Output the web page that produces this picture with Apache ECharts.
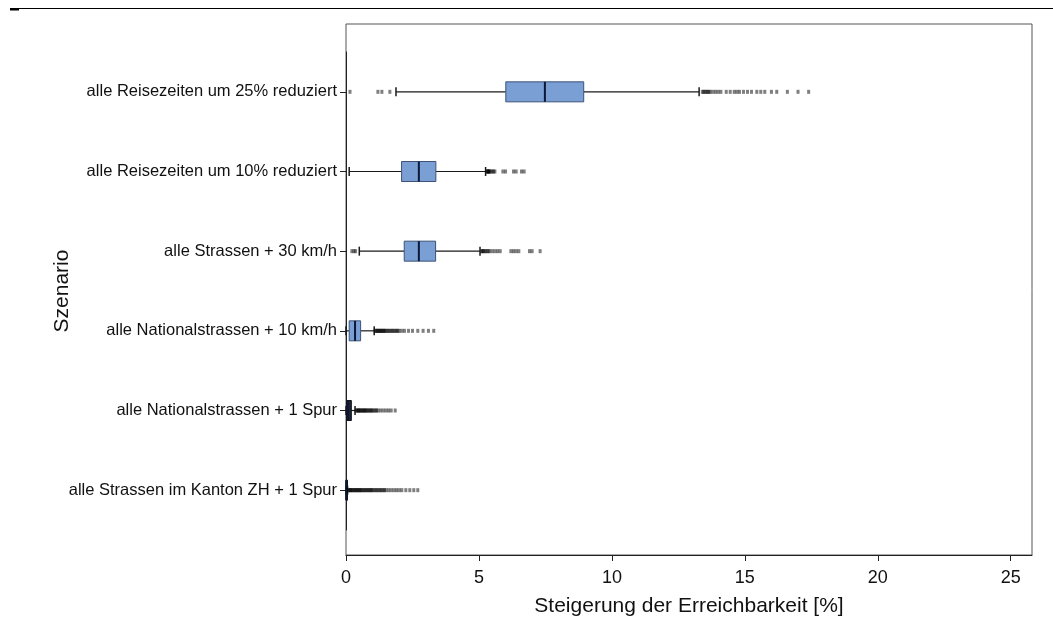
<!DOCTYPE html>
<html>
<head>
<meta charset="utf-8">
<script src="https://cdn.jsdelivr.net/npm/echarts@6/dist/echarts.min.js"></script>
<style>html,body{margin:0;padding:0;background:#fff;}#c{width:1053px;height:628px;}</style>
</head>
<body>
<div id="c"></div>
<script>
var categories = [
  'alle Reisezeiten um 25% reduziert',
  'alle Reisezeiten um 10% reduziert',
  'alle Strassen + 30 km/h',
  'alle Nationalstrassen + 10 km/h',
  'alle Nationalstrassen + 1 Spur',
  'alle Strassen im Kanton ZH + 1 Spur'
];
var whiskerLow  = [1.88, 0.12, 0.50, 0.00, 0.00, 0.00];
var q1Vals      = [6.01, 2.09, 2.19, 0.12, 0.03, 0.00];
var medianVals  = [7.48, 2.74, 2.74, 0.34, 0.08, 0.01];
var q3Vals      = [8.94, 3.38, 3.37, 0.55, 0.20, 0.03];
var whiskerHigh = [13.28, 5.25, 5.04, 1.06, 0.34, 0.06];

var outliers0 = [0.15, 1.2, 1.35, 1.65, 13.4, 13.45, 13.5, 13.55, 13.6, 13.65, 13.7, 13.8, 13.9, 14.0, 14.1, 14.3, 14.45, 14.6, 14.7, 14.8, 14.95, 15.1, 15.25, 15.45, 15.6, 15.75, 16.0, 16.2, 16.6, 17.0, 17.4];
var outliers1 = [5.3, 5.32, 5.34, 5.36, 5.38, 5.4, 5.45, 5.5, 5.55, 5.6, 5.9, 6.0, 6.3, 6.4, 6.6, 6.7];
var outliers2 = [0.22, 0.3, 0.36, 5.1, 5.13, 5.16, 5.2, 5.25, 5.3, 5.35, 5.4, 5.5, 5.6, 5.7, 5.8, 6.2, 6.3, 6.4, 6.5, 6.9, 7.0, 7.3];
var outliers3 = [1.1, 1.13, 1.16, 1.2, 1.23, 1.26, 1.3, 1.33, 1.36, 1.4, 1.43, 1.46, 1.5, 1.55, 1.6, 1.65, 1.7, 1.75, 1.8, 1.85, 1.9, 1.95, 2.0, 2.1, 2.2, 2.35, 2.5, 2.7, 2.9, 3.1, 3.3];
var outliers4 = [0.38, 0.41, 0.44, 0.47, 0.5, 0.53, 0.56, 0.6, 0.63, 0.66, 0.7, 0.73, 0.76, 0.8, 0.84, 0.88, 0.92, 0.96, 1.0, 1.05, 1.1, 1.15, 1.2, 1.3, 1.4, 1.5, 1.6, 1.7, 1.85];
var outliers5 = [0.08, 0.11, 0.14, 0.17, 0.2, 0.23, 0.26, 0.3, 0.33, 0.36, 0.4, 0.43, 0.46, 0.5, 0.53, 0.56, 0.6, 0.64, 0.68, 0.72, 0.76, 0.8, 0.84, 0.88, 0.92, 0.96, 1.0, 1.05, 1.1, 1.15, 1.2, 1.25, 1.3, 1.35, 1.4, 1.45, 1.5, 1.6, 1.7, 1.8, 1.9, 2.0, 2.1, 2.25, 2.4, 2.55, 2.7];

var xTicks = [0, 5, 10, 15, 20, 25];

var FONT = 'Liberation Sans, Arial, sans-serif';

var boxData = categories.map(function (c, i) {
  return [i, whiskerLow[i], q1Vals[i], medianVals[i], q3Vals[i], whiskerHigh[i]];
});
var allOutliers = [outliers0, outliers1, outliers2, outliers3, outliers4, outliers5];
var outlierData = [];
allOutliers.forEach(function (arr, i) {
  arr.forEach(function (v) { outlierData.push([v, i]); });
});

var chart = echarts.init(document.getElementById('c'), null, {renderer: 'canvas'});
var option = {
  backgroundColor: '#fff',
  animation: false,
  graphic: [
    {type: 'line', shape: {x1: 10, y1: 8.5, x2: 1053, y2: 8.5}, style: {stroke: '#000', lineWidth: 1.2}},
    {type: 'rect', shape: {x: 10, y: 8, width: 9, height: 2.5}, style: {fill: '#000'}}
  ],
  grid: [
    {left: 346, right: 21, top: 52, bottom: 98},
    {left: 346, right: 21, top: 24, bottom: 73, show: true, borderColor: '#555', borderWidth: 1, backgroundColor: 'transparent'}
  ],
  xAxis: [
    {gridIndex: 0, type: 'value', min: 0, max: 25.8, show: false},
    {gridIndex: 1, type: 'value', min: 0, max: 25.8, interval: 5, position: 'bottom',
     axisLine: {show: true, lineStyle: {color: '#222', width: 1}},
     axisTick: {show: true, length: 6, lineStyle: {color: '#222'}, customValues: xTicks},
     splitLine: {show: false},
     axisLabel: {color: '#111', fontSize: 18, fontFamily: FONT, margin: 14, customValues: xTicks},
     name: 'Steigerung der Erreichbarkeit [%]', nameLocation: 'middle', nameGap: 41,
     nameMoveOverlap: false,
     nameTextStyle: {color: '#111', fontSize: 21, fontFamily: FONT}}
  ],
  yAxis: [
    {gridIndex: 0, type: 'category', data: categories, inverse: true, boundaryGap: true,
     axisLine: {show: true, lineStyle: {color: '#222'}},
     axisTick: {show: true, alignWithLabel: true, length: 6, lineStyle: {color: '#222'}},
     axisLabel: {color: '#111', fontSize: 16.5, fontFamily: FONT, margin: 9},
     splitLine: {show: false},
     name: 'Szenario', nameLocation: 'middle', nameGap: 273, nameRotate: 90,
     nameMoveOverlap: false,
     nameTextStyle: {color: '#111', fontSize: 21, fontFamily: FONT}},
    {gridIndex: 1, type: 'value', show: false, min: 0, max: 1}
  ],
  series: [
    {
      type: 'custom', xAxisIndex: 0, yAxisIndex: 0, data: boxData,
      encode: {x: [1, 2, 3, 4, 5], y: 0},
      renderItem: function (params, api) {
        var cat = api.value(0);
        var pLo = api.coord([api.value(1), cat]);
        var pQ1 = api.coord([api.value(2), cat]);
        var pMed = api.coord([api.value(3), cat]);
        var pQ3 = api.coord([api.value(4), cat]);
        var pHi = api.coord([api.value(5), cat]);
        var cy = pMed[1];
        var hb = 10, hc = 4.5;
        var stroke = '#1a1a1a';
        var narrow = (pQ3[0] - pQ1[0]) < 6;
        return {
          type: 'group',
          children: [
            {type: 'line', shape: {x1: pLo[0], y1: cy, x2: pQ1[0], y2: cy}, style: {stroke: stroke, lineWidth: 1.2}},
            {type: 'line', shape: {x1: pQ3[0], y1: cy, x2: pHi[0], y2: cy}, style: {stroke: stroke, lineWidth: 1.2}},
            {type: 'line', shape: {x1: pLo[0], y1: cy - hc, x2: pLo[0], y2: cy + hc}, style: {stroke: stroke, lineWidth: 1.5}},
            {type: 'line', shape: {x1: pHi[0], y1: cy - hc, x2: pHi[0], y2: cy + hc}, style: {stroke: stroke, lineWidth: 1.5}},
            {type: 'rect', shape: {x: pQ1[0], y: cy - hb, width: Math.max(pQ3[0] - pQ1[0], 1.5), height: 2 * hb},
             style: {fill: narrow ? '#1c2438' : '#7a9fd5', stroke: narrow ? '#111' : '#3d5276', lineWidth: 1}},
            {type: 'line', shape: {x1: pMed[0], y1: cy - hb, x2: pMed[0], y2: cy + hb}, style: {stroke: '#0c1836', lineWidth: 2}}
          ]
        };
      },
      z: 3
    },
    {
      type: 'scatter', xAxisIndex: 0, yAxisIndex: 0, data: outlierData,
      symbol: 'rect', symbolSize: [3, 4],
      itemStyle: {color: '#000', opacity: 0.5},
      z: 4
    }
  ]
};
chart.setOption(option);
</script>
</body>
</html>
